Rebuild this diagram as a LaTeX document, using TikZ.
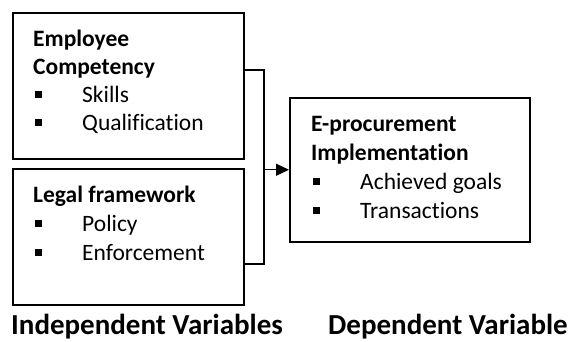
\documentclass[tikz,border=0pt]{standalone}
\usepackage{fontspec}
\setmainfont{Carlito}[Ligatures=NoCommon]
\usetikzlibrary{arrows.meta}
\newcommand{\itm}[1]{\makebox[49pt][l]{\hspace{2pt}\rule[4.5pt]{6.5pt}{6.5pt}}#1}
\tikzset{
  box/.style={draw, line width=1.5pt, rectangle, anchor=north west, inner sep=0pt},
  body/.style={anchor=base west, align=left, inner sep=0pt, font=\fontsize{23.5pt}{28.8pt}\selectfont},
  body1/.style={body, font=\fontsize{23.5pt}{27.7pt}\selectfont},
  lbl/.style={anchor=base west, inner sep=0pt, font=\fontsize{29pt}{34pt}\selectfont\bfseries},
  conn/.style={line width=1.2pt},
}
\begin{document}
\begin{tikzpicture}[x=1pt,y=-1pt]
\useasboundingbox (0,0) rectangle (573,341);
\node[box, minimum width=231pt, minimum height=146pt] (ec) at (12,12) {};
\node[box, minimum width=231pt, minimum height=136pt] (lf) at (12,168) {};
\node[box, minimum width=240pt, minimum height=144pt] (ep) at (289,97) {};
\node[body1] (ect) at (33,130) {\textbf{Employee}\\\textbf{Competency}\\\itm{Skills}\\\itm{Qualification}};
\node[body] (lft) at (33,260) {\textbf{Legal framework}\\\itm{Policy}\\\itm{Enforcement}};
\node[body] (ept) at (311,218) {\textbf{E-procurement}\\\textbf{Implementation}\\\itm{Achieved goals}\\\itm{Transactions}};
\coordinate (b1) at (264,70);
\coordinate (b2) at (264,264);
\draw[conn] ([yshift=-58pt]ec.north east) -- (b1) -- (b2) -- ([yshift=-96pt]lf.north east);
\draw[conn, -{Triangle[length=13pt,width=12pt]}] (b1 |- ep.west) -- (ep.west);
\node[lbl] (iv) at (11,334.5) {Independent Variables};
\node[lbl] (dv) at (328,334.5) {Dependent Variable};
\end{tikzpicture}
\end{document}
